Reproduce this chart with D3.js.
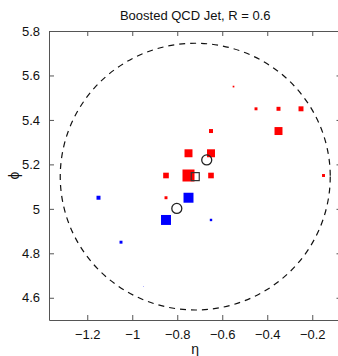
<!DOCTYPE html>
<html>
<head>
<meta charset="utf-8">
<script src="https://cdn.jsdelivr.net/npm/d3@7"></script>
<style>
  body { margin: 0; background: #fff; }
  svg { display: block; font-family: "Liberation Sans", Arial, sans-serif; }
</style>
</head>
<body>
<div id="chart"></div>
<script>
// calorimeter cells (eta, phi, pT) for the two subjets
const redEta = [-0.65, -0.75, -0.65, -0.85, -0.75, -0.65, -0.85, -0.55, -0.45, -0.35, -0.25, -0.35, -0.15];
const redPhi = [5.35, 5.25, 5.25, 5.15, 5.15, 5.15, 5.05, 5.55, 5.45, 5.45, 5.45, 5.35, 5.15];
const redPt = [11, 44, 44, 22, 100, 22, 6, 2, 6, 11, 17, 44, 6];

const blueEta = [-0.75, -0.85, -0.65, -1.15, -1.05, -0.95];
const bluePhi = [5.05, 4.95, 4.95, 5.05, 4.85, 4.65];
const bluePt = [69, 69, 4, 11, 6, 0.2];

// subjet axes (open circles) and jet axis (open square)
const subjetEta = [-0.669, -0.802];
const subjetPhi = [5.22, 5.002];
const jetEta = [-0.72];
const jetPhi = [5.145];
const jetR = 0.6;

const xTicks = [-1.2, -1, -0.8, -0.6, -0.4, -0.2];
const yTicks = [4.6, 4.8, 5, 5.2, 5.4, 5.6, 5.8];
const xRange = [-1.37, -0.07];
const yRange = [4.5, 5.8];

const width = 338;
const height = 356;
const margin = { top: 31, right: -3.5, bottom: 36, left: 49 };

const svg = d3.select("#chart")
  .append("svg")
  .attr("width", width)
  .attr("height", height);

const x = d3.scaleLinear().domain(xRange).range([margin.left, width - margin.right]);
const y = d3.scaleLinear().domain(yRange).range([height - margin.bottom, margin.top]);
const side = d3.scaleSqrt().domain([0, 100]).range([0, 12]);

const fmt = d => (d < 0 ? "\u2212" : "") + Math.abs(d);

// jet cone
const cx = x(jetEta[0]), cy = y(jetPhi[0]);
svg.append("ellipse")
  .attr("cx", cx)
  .attr("cy", cy)
  .attr("rx", x(jetEta[0] + jetR) - cx)
  .attr("ry", cy - y(jetPhi[0] + jetR))
  .attr("fill", "none")
  .attr("stroke", "#111")
  .attr("stroke-width", 1.2)
  .attr("stroke-dasharray", "6,5");

const drawCells = (eta, phi, pt, color) => {
  svg.append("g")
    .selectAll("rect")
    .data(d3.range(eta.length))
    .join("rect")
      .attr("x", i => x(eta[i]) - side(pt[i]) / 2)
      .attr("y", i => y(phi[i]) - side(pt[i]) / 2)
      .attr("width", i => side(pt[i]))
      .attr("height", i => side(pt[i]))
      .attr("fill", color);
};
drawCells(redEta, redPhi, redPt, "#ff0000");
drawCells(blueEta, bluePhi, bluePt, "#0000ff");

svg.append("g")
  .selectAll("circle")
  .data(d3.range(subjetEta.length))
  .join("circle")
    .attr("cx", i => x(subjetEta[i]))
    .attr("cy", i => y(subjetPhi[i]))
    .attr("r", 5)
    .attr("fill", "none")
    .attr("stroke", "#222")
    .attr("stroke-width", 1.3);

svg.append("g")
  .selectAll("rect")
  .data(d3.range(jetEta.length))
  .join("rect")
    .attr("x", i => x(jetEta[i]) - 4)
    .attr("y", i => y(jetPhi[i]) - 4)
    .attr("width", 8)
    .attr("height", 8)
    .attr("fill", "none")
    .attr("stroke", "#333")
    .attr("stroke-width", 1.2);

// axes, MATLAB style: box with inward ticks on all sides
const axisColor = "#555";
const styleAxis = g => {
  g.select(".domain").attr("stroke", axisColor);
  g.selectAll(".tick line").attr("stroke", axisColor);
  g.selectAll(".tick text").attr("fill", "#111").attr("font-size", "13px");
};

svg.append("g")
  .attr("transform", `translate(0, ${height - margin.bottom})`)
  .call(d3.axisBottom(x).tickValues(xTicks).tickFormat(fmt).tickSizeInner(-5).tickSizeOuter(0).tickPadding(10))
  .call(styleAxis);

svg.append("g")
  .attr("transform", `translate(0, ${margin.top})`)
  .call(d3.axisTop(x).tickValues(xTicks).tickFormat("").tickSizeInner(-5).tickSizeOuter(0))
  .call(styleAxis);

svg.append("g")
  .attr("transform", `translate(${margin.left}, 0)`)
  .call(d3.axisLeft(y).tickValues(yTicks).tickFormat(d3.format("")).tickSizeInner(-5).tickSizeOuter(0).tickPadding(9))
  .call(styleAxis);

svg.append("g")
  .attr("transform", `translate(${width - margin.right}, 0)`)
  .call(d3.axisRight(y).tickValues(yTicks).tickFormat("").tickSizeInner(-5).tickSizeOuter(0))
  .call(styleAxis);

svg.append("text")
  .attr("x", (margin.left + width - margin.right) / 2)
  .attr("y", 20)
  .attr("text-anchor", "middle")
  .attr("font-size", "13px")
  .attr("fill", "#111")
  .text("Boosted QCD Jet, R = 0.6");

svg.append("text")
  .attr("x", (margin.left + width - margin.right) / 2)
  .attr("y", 354)
  .attr("text-anchor", "middle")
  .attr("font-size", "14px")
  .attr("fill", "#111")
  .text("\u03b7");

svg.append("text")
  .attr("transform", `translate(19, ${(margin.top + height - margin.bottom) / 2}) rotate(-90)`)
  .attr("text-anchor", "middle")
  .attr("font-size", "14px")
  .attr("fill", "#111")
  .text("\u03d5");
</script>
</body>
</html>
